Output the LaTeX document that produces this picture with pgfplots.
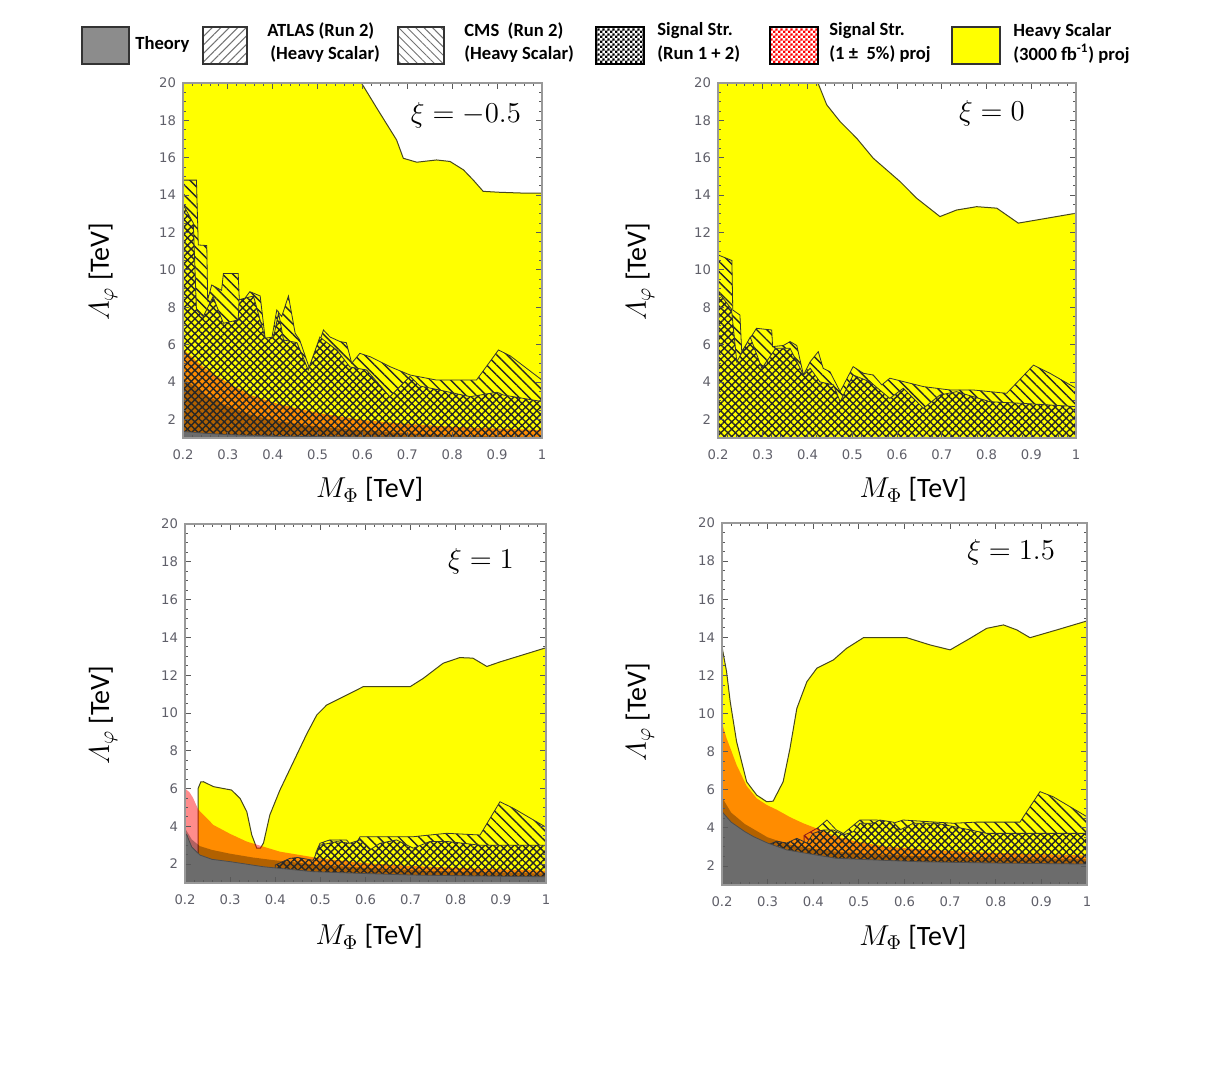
\documentclass[border=0pt]{standalone}
\usepackage{amsmath}
\usepackage{fontspec}
\setmainfont{Carlito}
\newfontfamily\tickfont{DejaVu Sans}
\usepackage{pgfplots}
\pgfplotsset{compat=1.18}
\usetikzlibrary{patterns,patterns.meta}

\pgfdeclarepatternformonly{finecheck}{\pgfpointorigin}{\pgfpoint{2.4pt}{2.4pt}}{\pgfpoint{2.4pt}{2.4pt}}{%
  \pgfpathrectangle{\pgfpointorigin}{\pgfpoint{1.2pt}{1.2pt}}%
  \pgfpathrectangle{\pgfpoint{1.2pt}{1.2pt}}{\pgfpoint{1.2pt}{1.2pt}}%
  \pgfusepath{fill}}

\definecolor{yel}{RGB}{255,255,0}
\definecolor{theo}{RGB}{108,108,108}
\definecolor{theoleg}{RGB}{140,140,140}
\definecolor{edge}{RGB}{70,70,30}
\definecolor{ticklab}{RGB}{95,95,105}

\pgfplotsset{
 panel/.style={
  scale only axis, xmin=0.2, xmax=1, ymin=1, ymax=20,
  xtick={0.2,0.3,0.4,0.5,0.6,0.7,0.8,0.9,1},
  xticklabels={0.2,0.3,0.4,0.5,0.6,0.7,0.8,0.9,1},
  ytick={2,4,6,8,10,12,14,16,18,20},
  yticklabels={2,4,6,8,10,12,14,16,18,20},
  minor x tick num=4, minor y tick num=3,
  tick align=inside,
  axis line style={draw=gray!80, line width=0.6pt},
  major tick length=3pt, minor tick length=1.6pt,
  tick style={gray!70!black, line width=0.4pt},
  tick label style={font=\tickfont\fontsize{6.6}{7}\selectfont, text=ticklab},
  xticklabel style={yshift=-2.5pt},
  axis on top,
  xlabel={$M_{\Phi}$ [TeV]},
  ylabel={$\varLambda_{\varphi}$ [TeV]},
  label style={font=\fontsize{14}{16}\selectfont},
 },
 yfill/.style={fill=yel, draw=edge, line width=0.5pt},
 hatchlines/.style={pattern={Lines[angle=-45,distance=3.6pt,line width=0.7pt]}, pattern color=black!85, draw=black!80, line width=0.4pt},
 xfill/.style={fill=yel, draw=none},
 xlines/.style={pattern={Hatch[angle=45,distance=2.6pt,line width=0.7pt]}, pattern color=black!85, draw=black!80, line width=0.4pt},
 redband/.style={fill=red, fill opacity=0.45, draw=none},
 darkband/.style={fill=black, fill opacity=0.3, draw=none},
 theory/.style={fill=theo, draw=black!70, line width=0.4pt},
}

\begin{document}
\begin{tikzpicture}
\path[use as bounding box] (0,0) rectangle (615pt,540pt);

% ---------------- Legend ----------------
\begin{scope}[font=\bfseries\fontsize{9.3}{10}\selectfont]
\draw[fill=theoleg, draw=black!80, line width=0.6pt] (41pt,508pt) rectangle (64.5pt,526.5pt);
\node[anchor=west, inner sep=0] at (67.5pt,518pt) {Theory};
\draw[pattern={Lines[angle=45,distance=3pt,line width=0.5pt]}, pattern color=black!55, draw=black!80, line width=0.6pt] (101.5pt,508pt) rectangle (123.5pt,526.5pt);
\node[anchor=west, inner sep=0] at (133.5pt,524.5pt) {ATLAS (Run 2)};
\node[anchor=west, inner sep=0] at (135pt,513pt) {(Heavy Scalar)};
\draw[pattern={Lines[angle=-45,distance=3pt,line width=0.5pt]}, pattern color=black!55, draw=black!80, line width=0.6pt] (199pt,508pt) rectangle (222pt,526.5pt);
\node[anchor=west, inner sep=0] at (232pt,524.5pt) {CMS\ \ (Run 2)};
\node[anchor=west, inner sep=0] at (232pt,513pt) {(Heavy Scalar)};
\draw[fill=white, draw=none] (298pt,508pt) rectangle (322pt,526.5pt);
\draw[pattern=finecheck, pattern color=black, draw=black, line width=0.6pt] (298pt,508pt) rectangle (322pt,526.5pt);
\node[anchor=west, inner sep=0] at (328.5pt,524.5pt) {Signal Str.};
\node[anchor=west, inner sep=0] at (328.5pt,513pt) {(Run 1 + 2)};
\draw[fill=white, draw=none] (385pt,508pt) rectangle (409pt,526.5pt);
\draw[pattern=finecheck, pattern color=red, draw=black, line width=0.6pt] (385pt,508pt) rectangle (409pt,526.5pt);
\node[anchor=west, inner sep=0] at (414.5pt,524.5pt) {Signal Str.};
\node[anchor=west, inner sep=0] at (414.5pt,513pt) {(1 ±\ \ 5\%) proj};
\draw[fill=yel, draw=black!80, line width=0.6pt] (476pt,508pt) rectangle (500pt,526.5pt);
\node[anchor=west, inner sep=0] at (506.5pt,524.5pt) {Heavy Scalar};
\node[anchor=west, inner sep=0] at (506.5pt,513pt) {(3000 fb\textsuperscript{-1}) proj};
\end{scope}

% ---------------- Panel 1: xi = -0.5 ----------------
\begin{axis}[panel, at={(91.5pt,321pt)}, anchor=south west, width=179.5pt, height=177.5pt,
  xlabel style={at={(axis description cs:0.52,-0.146)},anchor=center},
  ylabel style={at={(axis description cs:-0.223,0.468)},anchor=center}]
\addplot[yfill] coordinates {(0.2,0) (0.2,20.5) (0.585,20.5) (0.632,18.65) (0.676,16.95) (0.691,15.97) (0.721,15.76) (0.765,15.88) (0.795,15.8) (0.825,15.35) (0.847,14.8) (0.869,14.2) (0.906,14.15) (0.966,14.1) (1,14.1) (1,0)} -- cycle;
\addplot[hatchlines] coordinates {(0.2,0) (0.2,14.8) (0.23,14.8) (0.234,11.33) (0.253,11.3) (0.255,8.4) (0.264,9.19) (0.286,8.9) (0.29,9.8) (0.323,9.8) (0.326,8.1) (0.349,8.83) (0.372,8.6) (0.383,6.34) (0.398,6.34) (0.409,7.85) (0.42,7.5) (0.435,8.6) (0.45,6.6) (0.46,6.25) (0.483,4.64) (0.498,5.7) (0.513,6.78) (0.528,6.4) (0.55,6.16) (0.564,6.1) (0.576,5.0) (0.594,5.53) (0.617,5.35) (0.661,4.82) (0.706,4.37) (0.765,4.1) (0.854,4.1) (0.903,5.71) (0.929,5.4) (1,4.1) (1,0)} -- cycle;
\addplot[xfill] coordinates {(0.2,0) (0.2,13.5) (0.223,12.5) (0.23,7.85) (0.245,7.5) (0.267,8.56) (0.29,7.14) (0.323,7.32) (0.325,8.4) (0.357,8.6) (0.383,6.34) (0.402,6.4) (0.413,7.7) (0.424,6.25) (0.454,6.1) (0.479,4.64) (0.505,6.4) (0.543,5.7) (0.572,4.8) (0.609,4.64) (0.661,3.21) (0.706,4.3) (0.728,3.78) (0.765,3.6) (0.84,3.21) (0.9,3.45) (0.914,3.3) (1,2.95) (1,0)} -- cycle;
\addplot[redband] coordinates {(0.2,0) (0.2,5.75) (0.25,4.7) (0.3,3.95) (0.35,3.3) (0.4,2.9) (0.45,2.6) (0.5,2.35) (0.6,1.96) (0.7,1.75) (0.8,1.6) (0.9,1.5) (1,1.43) (1,0)} -- cycle;
\addplot[darkband] coordinates {(0.2,0) (0.2,4.2) (0.25,3.3) (0.3,2.7) (0.35,2.25) (0.4,1.95) (0.5,1.6) (0.6,1.4) (0.7,1.25) (0.8,1.15) (1,1.05) (1,0)} -- cycle;
\addplot[xlines] coordinates {(0.2,0) (0.2,13.5) (0.223,12.5) (0.23,7.85) (0.245,7.5) (0.267,8.56) (0.29,7.14) (0.323,7.32) (0.325,8.4) (0.357,8.6) (0.383,6.34) (0.402,6.4) (0.413,7.7) (0.424,6.25) (0.454,6.1) (0.479,4.64) (0.505,6.4) (0.543,5.7) (0.572,4.8) (0.609,4.64) (0.661,3.21) (0.706,4.3) (0.728,3.78) (0.765,3.6) (0.84,3.21) (0.9,3.45) (0.914,3.3) (1,2.95) (1,0)} -- cycle;
\addplot[theory] coordinates {(0.2,0) (0.2,1.35) (0.25,1.25) (0.3,1.18) (0.4,1.1) (0.6,1.05) (1,1.02) (1,0)} -- cycle;
\node at (rel axis cs:0.788,0.91) {\fontsize{15}{17}\selectfont$\xi = -0.5$};
\end{axis}

% ---------------- Panel 2: xi = 0 ----------------
\begin{axis}[panel, at={(359pt,321pt)}, anchor=south west, width=179pt, height=177.5pt,
  xlabel style={at={(axis description cs:0.545,-0.146)},anchor=center},
  ylabel style={at={(axis description cs:-0.218,0.468)},anchor=center}]
\addplot[yfill] coordinates {(0.2,0) (0.2,20.5) (0.415,20.5) (0.443,18.83) (0.473,17.93) (0.51,17.04) (0.547,15.97) (0.607,14.72) (0.644,13.83) (0.696,12.85) (0.733,13.2) (0.778,13.38) (0.823,13.3) (0.871,12.5) (0.92,12.7) (1,13.03) (1,0)} -- cycle;
\addplot[hatchlines] coordinates {(0.2,0) (0.2,10.8) (0.231,10.5) (0.233,7.85) (0.249,7.58) (0.253,5.62) (0.272,6.34) (0.286,6.87) (0.32,6.78) (0.322,5.89) (0.346,5.95) (0.361,6.16) (0.376,5.95) (0.391,4.37) (0.406,5.08) (0.424,5.62) (0.435,4.73) (0.45,4.55) (0.473,3.48) (0.502,4.82) (0.525,4.46) (0.547,4.37) (0.566,3.84) (0.584,4.2) (0.659,3.75) (0.718,3.57) (0.77,3.57) (0.845,3.39) (0.905,4.9) (0.942,4.46) (1,3.66) (1,0)} -- cycle;
\addplot[xfill] coordinates {(0.2,0) (0.2,8.83) (0.23,7.9) (0.242,5.08) (0.272,6.4) (0.298,4.73) (0.329,5.8) (0.361,5.8) (0.391,4.37) (0.406,4.73) (0.428,4.0) (0.458,3.84) (0.473,2.94) (0.502,4.37) (0.54,4.0) (0.584,3.12) (0.614,3.66) (0.659,2.59) (0.696,3.3) (0.733,3.48) (0.808,2.94) (0.883,2.85) (1,2.68) (1,0)} -- cycle;
\addplot[xlines] coordinates {(0.2,0) (0.2,8.83) (0.23,7.9) (0.242,5.08) (0.272,6.4) (0.298,4.73) (0.329,5.8) (0.361,5.8) (0.391,4.37) (0.406,4.73) (0.428,4.0) (0.458,3.84) (0.473,2.94) (0.502,4.37) (0.54,4.0) (0.584,3.12) (0.614,3.66) (0.659,2.59) (0.696,3.3) (0.733,3.48) (0.808,2.94) (0.883,2.85) (1,2.68) (1,0)} -- cycle;
\node at (rel axis cs:0.765,0.915) {\fontsize{15}{17}\selectfont$\xi = 0$};
\end{axis}

% ---------------- Panel 3: xi = 1 ----------------
\begin{axis}[panel, at={(92.5pt,98.5pt)}, anchor=south west, width=180.5pt, height=179.5pt,
  xlabel style={at={(axis description cs:0.51,-0.15)},anchor=center},
  ylabel style={at={(axis description cs:-0.227,0.468)},anchor=center}]
\addplot[yfill] coordinates {(0.229,0) (0.229,6.0) (0.235,6.35) (0.241,6.36) (0.263,6.1) (0.285,6.0) (0.303,5.92) (0.322,5.48) (0.337,4.77) (0.348,3.54) (0.359,2.84) (0.367,2.84) (0.374,3.12) (0.388,4.6) (0.41,5.9) (0.444,7.6) (0.47,8.9) (0.492,9.89) (0.514,10.42) (0.551,10.86) (0.595,11.39) (0.64,11.39) (0.699,11.39) (0.728,11.83) (0.772,12.63) (0.809,12.93) (0.838,12.9) (0.869,12.46) (0.898,12.7) (1,13.45) (1,0)} -- cycle;
\addplot[hatchlines] coordinates {(0.49,0) (0.49,2.6) (0.499,3.1) (0.521,3.28) (0.558,3.28) (0.573,2.84) (0.588,3.45) (0.706,3.45) (0.743,3.54) (0.78,3.63) (0.854,3.54) (0.898,5.3) (0.928,4.95) (1,3.95) (1,0)} -- cycle;
\addplot[xfill] coordinates {(0.4,0) (0.4,1.95) (0.432,2.3) (0.45,2.35) (0.484,2.2) (0.499,3.0) (0.536,3.19) (0.565,3.1) (0.588,3.28) (0.61,2.75) (0.632,3.1) (0.669,3.28) (0.706,2.84) (0.743,3.2) (0.78,3.2) (0.854,3.0) (1,3.0) (1,0)} -- cycle;
\addplot[redband] coordinates {(0.2,0) (0.2,6.0) (0.21,5.8) (0.218,5.5) (0.229,4.9) (0.263,4.07) (0.3,3.6) (0.337,3.19) (0.41,2.66) (0.5,2.3) (0.6,2.05) (0.7,1.9) (0.8,1.8) (0.9,1.72) (1,1.65) (1,0)} -- cycle;
\addplot[darkband] coordinates {(0.2,0) (0.2,3.9) (0.215,3.3) (0.233,2.95) (0.26,2.75) (0.3,2.55) (0.35,2.35) (0.4,2.2) (0.5,1.95) (0.6,1.8) (0.7,1.68) (0.8,1.6) (1,1.5) (1,0)} -- cycle;
\addplot[xlines] coordinates {(0.4,0) (0.4,1.95) (0.432,2.3) (0.45,2.35) (0.484,2.2) (0.499,3.0) (0.536,3.19) (0.565,3.1) (0.588,3.28) (0.61,2.75) (0.632,3.1) (0.669,3.28) (0.706,2.84) (0.743,3.2) (0.78,3.2) (0.854,3.0) (1,3.0) (1,0)} -- cycle;
\addplot[theory] coordinates {(0.2,0) (0.2,3.65) (0.204,3.54) (0.215,2.9) (0.233,2.48) (0.26,2.25) (0.3,2.13) (0.374,1.86) (0.484,1.6) (0.6,1.5) (0.706,1.42) (0.85,1.37) (1,1.33) (1,0)} -- cycle;
\node at (rel axis cs:0.82,0.897) {\fontsize{15}{17}\selectfont$\xi = 1$};
\end{axis}

% ---------------- Panel 4: xi = 1.5 ----------------
\begin{axis}[panel, at={(361pt,97.5pt)}, anchor=south west, width=182.5pt, height=181pt,
  xlabel style={at={(axis description cs:0.523,-0.144)},anchor=center},
  ylabel style={at={(axis description cs:-0.225,0.478)},anchor=center}]
\addplot[yfill] coordinates {(0.2,0) (0.2,13.5) (0.21,12.2) (0.218,10.62) (0.232,8.52) (0.254,6.42) (0.276,5.72) (0.298,5.37) (0.312,5.4) (0.334,6.42) (0.349,8.17) (0.364,10.27) (0.386,11.67) (0.408,12.38) (0.444,12.81) (0.473,13.42) (0.51,13.98) (0.605,13.98) (0.656,13.6) (0.7,13.34) (0.744,13.95) (0.78,14.47) (0.817,14.65) (0.846,14.39) (0.875,13.98) (0.934,14.39) (1,14.86) (1,0)} -- cycle;
\addplot[hatchlines] coordinates {(0.38,0) (0.38,3.6) (0.41,4.0) (0.43,4.41) (0.45,3.9) (0.466,3.7) (0.502,4.41) (0.539,4.41) (0.575,4.24) (0.597,4.41) (0.707,4.24) (0.758,4.3) (0.853,4.3) (0.897,5.9) (0.926,5.63) (1,4.58) (1,0)} -- cycle;
\addplot[xfill] coordinates {(0.3,0) (0.3,3.1) (0.32,3.3) (0.342,3.2) (0.364,3.45) (0.386,3.2) (0.4,3.71) (0.422,3.89) (0.444,3.89) (0.466,3.63) (0.488,3.8) (0.502,4.24) (0.532,4.24) (0.546,4.41) (0.575,4.3) (0.59,3.89) (0.619,4.24) (0.67,4.24) (0.707,4.07) (0.744,3.89) (0.78,3.71) (1,3.71) (1,0)} -- cycle;
\addplot[redband] coordinates {(0.2,0) (0.2,9.5) (0.21,8.7) (0.218,8.2) (0.232,7.3) (0.254,6.2) (0.276,5.55) (0.298,5.2) (0.32,4.95) (0.35,4.55) (0.378,4.24) (0.42,3.85) (0.451,3.54) (0.5,3.25) (0.561,3.01) (0.65,2.85) (0.75,2.72) (0.85,2.65) (1,2.55) (1,0)} -- cycle;
\addplot[darkband] coordinates {(0.2,0) (0.2,5.6) (0.22,4.8) (0.25,4.2) (0.3,3.5) (0.35,3.1) (0.4,2.9) (0.45,2.75) (0.55,2.6) (0.7,2.45) (0.85,2.4) (1,2.35) (1,0)} -- cycle;
\addplot[xlines] coordinates {(0.3,0) (0.3,3.1) (0.32,3.3) (0.342,3.2) (0.364,3.45) (0.386,3.2) (0.4,3.71) (0.422,3.89) (0.444,3.89) (0.466,3.63) (0.488,3.8) (0.502,4.24) (0.532,4.24) (0.546,4.41) (0.575,4.3) (0.59,3.89) (0.619,4.24) (0.67,4.24) (0.707,4.07) (0.744,3.89) (0.78,3.71) (1,3.71) (1,0)} -- cycle;
\addplot[theory] coordinates {(0.2,0) (0.2,4.85) (0.22,4.3) (0.25,3.8) (0.269,3.54) (0.3,3.2) (0.342,2.84) (0.4,2.6) (0.451,2.4) (0.55,2.3) (0.634,2.22) (0.8,2.15) (1,2.1) (1,0)} -- cycle;
\node at (rel axis cs:0.792,0.92) {\fontsize{15}{17}\selectfont$\xi = 1.5$};
\end{axis}
\end{tikzpicture}
\end{document}
